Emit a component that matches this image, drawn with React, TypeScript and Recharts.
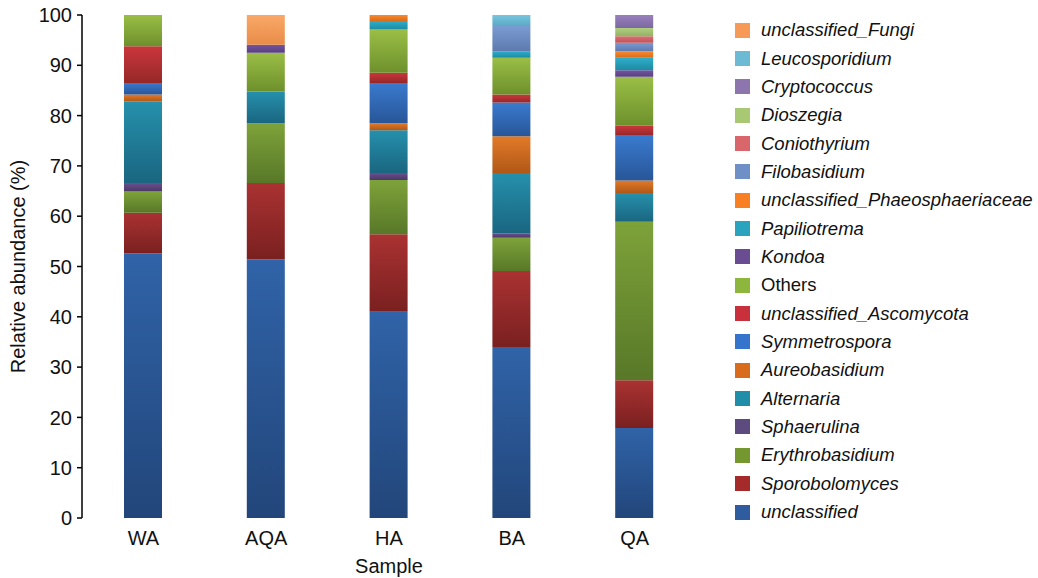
import React from 'react'
import { Bar, BarChart, Label, XAxis, YAxis } from 'recharts';

const samples = ['WA', 'AQA', 'HA', 'BA', 'QA'];

// stacked bottom -> top
const unclassified = [52.6, 51.4, 41.0, 34.0, 17.9];
const sporobolomyces = [8.1, 15.2, 15.4, 15.1, 9.5];
const erythrobasidium = [4.2, 11.9, 10.8, 6.6, 31.5];
const sphaerulina = [1.7, 0, 1.4, 0.9, 0];
const alternaria = [16.2, 6.3, 8.5, 12.0, 5.7];
const aureobasidium = [1.4, 0, 1.4, 7.3, 2.5];
const symmetrospora = [2.3, 0, 8.0, 6.7, 8.9];
const unclassifiedAscomycota = [7.3, 0, 2.0, 1.6, 2.0];
const others = [6.2, 7.7, 8.6, 7.3, 9.7];
const kondoa = [0, 1.6, 0, 0, 1.3];
const papiliotrema = [0, 0, 1.7, 1.3, 2.5];
const unclassifiedPhaeo = [0, 0, 1.2, 0, 1.3];
const filobasidium = [0, 0, 0, 5.0, 1.7];
const coniothyrium = [0, 0, 0, 0, 1.3];
const dioszegia = [0, 0, 0, 0, 1.6];
const cryptococcus = [0, 0, 0, 0, 2.6];
const leucosporidium = [0, 0, 0, 2.2, 0];
const unclassifiedFungi = [0, 5.9, 0, 0, 0];

const yTicks = [0, 10, 20, 30, 40, 50, 60, 70, 80, 90, 100];

const series = [
  { key: 'unclassified', values: unclassified, top: '#3063A8', bottom: '#22467A', swatch: '#2E5C9E', italic: true },
  { key: 'Sporobolomyces', values: sporobolomyces, top: '#AA3232', bottom: '#7A2020', swatch: '#A52A2A', italic: true },
  { key: 'Erythrobasidium', values: erythrobasidium, top: '#7EA23A', bottom: '#587828', swatch: '#74972F', italic: true },
  { key: 'Sphaerulina', values: sphaerulina, top: '#6A5090', bottom: '#4A3866', swatch: '#5D4A7E', italic: true },
  { key: 'Alternaria', values: alternaria, top: '#2690AC', bottom: '#1A6680', swatch: '#208EA8', italic: true },
  { key: 'Aureobasidium', values: aureobasidium, top: '#E27A28', bottom: '#B05818', swatch: '#D96C1C', italic: true },
  { key: 'Symmetrospora', values: symmetrospora, top: '#3A7ACE', bottom: '#285698', swatch: '#3574CC', italic: true },
  { key: 'unclassified_Ascomycota', values: unclassifiedAscomycota, top: '#CA363C', bottom: '#962828', swatch: '#C8303C', italic: true },
  { key: 'Others', values: others, top: '#9ABE46', bottom: '#6E902C', swatch: '#8DB63C', italic: false },
  { key: 'Kondoa', values: kondoa, top: '#7454A2', bottom: '#58407E', swatch: '#6A4C93', italic: true },
  { key: 'Papiliotrema', values: papiliotrema, top: '#2EAECA', bottom: '#1E8AA2', swatch: '#29A3BE', italic: true },
  { key: 'unclassified_Phaeosphaeriaceae', values: unclassifiedPhaeo, top: '#FA8A30', bottom: '#D86C18', swatch: '#F98022', italic: true },
  { key: 'Filobasidium', values: filobasidium, top: '#7A9CD2', bottom: '#5E7AAE', swatch: '#6F90C6', italic: true },
  { key: 'Coniothyrium', values: coniothyrium, top: '#DE6E72', bottom: '#C0545A', swatch: '#D9666B', italic: true },
  { key: 'Dioszegia', values: dioszegia, top: '#B0CE80', bottom: '#94B262', swatch: '#A8C874', italic: true },
  { key: 'Cryptococcus', values: cryptococcus, top: '#9880BC', bottom: '#7C68A0', swatch: '#8D76AE', italic: true },
  { key: 'Leucosporidium', values: leucosporidium, top: '#78C6DE', bottom: '#5AA8C2', swatch: '#6CBAD3', italic: true },
  { key: 'unclassified_Fungi', values: unclassifiedFungi, top: '#FAA868', bottom: '#E88C48', swatch: '#F79A58', italic: true },
];

const data = samples.map((s, i) => {
  const row: Record<string, string | number> = { sample: s };
  series.forEach((sr) => { row[sr.key] = sr.values[i]; });
  return row;
});

const font = '"Liberation Sans", Arial, sans-serif';
const gid = (k: string) => 'g_' + k.replace(/[^A-Za-z0-9]/g, '');

function YTitle({ viewBox }: any) {
  const cy = viewBox.y + viewBox.height / 2;
  return (
    <text x={18} y={cy} transform={`rotate(-90, 18, ${cy})`} textAnchor="middle"
      dominantBaseline="central" fontSize={20} fill="#111" fontFamily={font}>
      Relative abundance (%)
    </text>
  );
}

export default function App() {
  const legendItems = [...series].reverse();
  return (
    <div style={{ position: 'relative', width: 1038, height: 578, fontFamily: font }}>
      <style>{`body{margin:0}`}</style>
      <svg width={0} height={0} style={{ position: 'absolute' }}>
        <defs>
          {series.map((s) => (
            <linearGradient key={s.key} id={gid(s.key)} x1="0" y1="0" x2="0" y2="1">
              <stop offset="0%" stopColor={s.top} />
              <stop offset="100%" stopColor={s.bottom} />
            </linearGradient>
          ))}
        </defs>
      </svg>
      <BarChart width={1038} height={578} data={data}
        margin={{ top: 15, right: 342, left: 2, bottom: 0 }}>
        <XAxis dataKey="sample" axisLine={false} tickLine={false} tickSize={0} tickMargin={13}
          height={60} tick={{ fontSize: 20, fill: '#111', fontFamily: font }}>
          <Label value="Sample" position="insideBottom" offset={5}
            style={{ fontSize: 20, fill: '#111', fontFamily: font }} />
        </XAxis>
        <YAxis width={80} domain={[0, 100]} ticks={yTicks} interval={0} allowDataOverflow
          tickSize={5} tickMargin={5} axisLine={{ stroke: '#000', strokeWidth: 1.5 }}
          tickLine={{ stroke: '#000', strokeWidth: 1.5 }}
          tick={{ fontSize: 20, fill: '#111', fontFamily: font }}>
          <Label content={<YTitle />} />
        </YAxis>
        {series.map((s) => (
          <Bar key={s.key} dataKey={s.key} stackId="a" barSize={38}
            fill={`url(#${gid(s.key)})`} isAnimationActive={false} />
        ))}
      </BarChart>
      <div style={{ position: 'absolute', left: 735, top: 16 }}>
        {legendItems.map((s) => (
          <div key={s.key} style={{ display: 'flex', alignItems: 'center', height: 28.35 }}>
            <span style={{ display: 'inline-block', width: 15, height: 15, background: s.swatch, marginRight: 11 }} />
            <span style={{ fontSize: 18.5, fontStyle: s.italic ? 'italic' : 'normal', color: '#111', whiteSpace: 'nowrap' }}>
              {s.key}
            </span>
          </div>
        ))}
      </div>
    </div>
  )
}
